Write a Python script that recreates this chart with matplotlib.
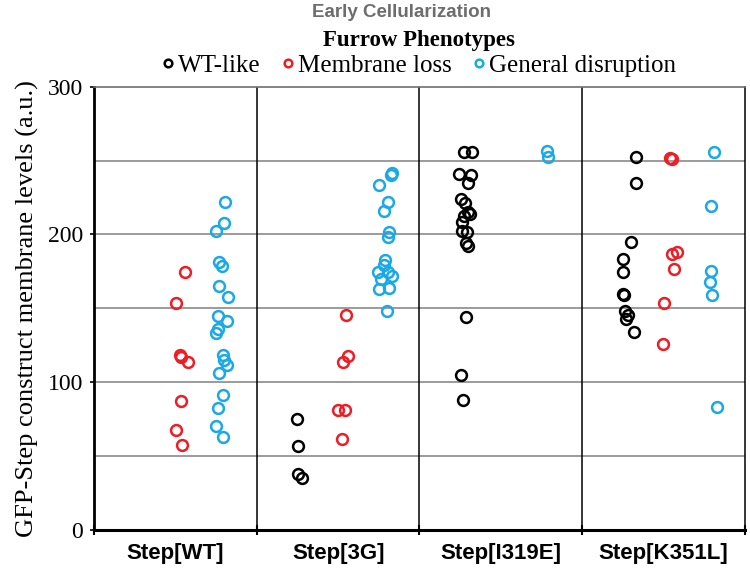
import matplotlib
matplotlib.use("Agg")
import matplotlib.pyplot as plt
from matplotlib.lines import Line2D

categories = ["Step[WT]", "Step[3G]", "Step[I319E]", "Step[K351L]"]
phenotypes = ["WT-like", "Membrane loss", "General disruption"]
colors = {"WT-like": "#000000", "Membrane loss": "#ee1c25", "General disruption": "#1aa9e6"}

# values per category and phenotype: (x offset inside the category, level)
wt_like = {
    "Step[WT]": ([], []),
    "Step[3G]": ([0.245, 0.255, 0.252, 0.276],
                 [75.1, 57.1, 37.8, 35.5]),
    "Step[I319E]": ([0.275, 0.324, 0.243, 0.316, 0.300, 0.253, 0.280, 0.296, 0.275,
                     0.310, 0.259, 0.263, 0.290, 0.284, 0.300, 0.284, 0.255, 0.269],
                    [256.0, 256.0, 240.9, 240.1, 234.7, 223.9, 221.2, 214.9, 212.6,
                     213.8, 208.2, 202.5, 201.8, 194.2, 192.4, 144.1, 105.2, 87.9]),
    "Step[K351L]": ([0.330, 0.330, 0.300, 0.252, 0.252, 0.252, 0.258, 0.263, 0.279, 0.267, 0.320],
                    [252.4, 234.7, 195.1, 183.4, 174.4, 159.8, 159.1, 148.1, 145.2, 143.0, 134.0]),
}
membrane_loss = {
    "Step[WT]": ([0.559, 0.502, 0.528, 0.535, 0.579, 0.532, 0.506, 0.543],
                 [174.8, 153.5, 118.7, 117.1, 113.7, 87.2, 67.6, 57.5]),
    "Step[3G]": ([0.547, 0.563, 0.532, 0.497, 0.542, 0.522],
                 [145.2, 117.8, 113.7, 80.9, 81.1, 61.4]),
    "Step[I319E]": ([], []),
    "Step[K351L]": ([0.539, 0.550, 0.550, 0.580, 0.566, 0.504, 0.498],
                    [251.5, 250.8, 186.8, 188.3, 176.7, 153.7, 125.6]),
}
general_disruption = {
    "Step[WT]": ([0.805, 0.801, 0.748, 0.770, 0.785, 0.768, 0.822, 0.764, 0.819, 0.760,
                  0.751, 0.791, 0.801, 0.819, 0.768, 0.794, 0.764, 0.751, 0.791],
                 [222.1, 207.7, 202.5, 181.6, 178.9, 165.0, 157.6, 144.5, 141.4, 136.2,
                  133.5, 118.2, 115.3, 111.9, 106.5, 91.7, 82.3, 70.3, 62.7]),
    "Step[3G]": ([0.829, 0.825, 0.751, 0.805, 0.784, 0.814, 0.805, 0.788, 0.784, 0.747,
                  0.808, 0.829, 0.763, 0.751, 0.813, 0.800],
                 [241.9, 240.5, 233.3, 222.3, 216.0, 201.4, 198.5, 183.0, 179.4, 174.9,
                  174.9, 172.2, 169.9, 163.2, 163.9, 148.1]),
    "Step[I319E]": ([0.782, 0.791], [256.5, 252.7]),
    "Step[K351L]": ([0.807, 0.791, 0.791, 0.784, 0.800, 0.826],
                    [256.0, 219.3, 175.1, 168.1, 159.1, 83.4]),
}
series = {"WT-like": wt_like, "Membrane loss": membrane_loss, "General disruption": general_disruption}

serif = ["Liberation Serif", "DejaVu Serif"]
sans = ["Liberation Sans", "DejaVu Sans"]

fig = plt.figure(figsize=(7.5, 5.72), dpi=100)
ax = fig.add_axes([0.1253, 0.0734, 0.868, 0.775])

for name in phenotypes:
    for i, cat in enumerate(categories):
        xs, ys = series[name][cat]
        ax.plot([i + x for x in xs], ys, linestyle="none", marker="o", ms=7.8,
                mfc="none", mec=colors[name], mew=1.8, zorder=3)

ax.set_xlim(0, 4)
ax.set_ylim(0, 300)
for y in [50, 100, 150, 200, 250]:
    ax.axhline(y, color="#8a8a8a", lw=1.2, zorder=1)
for x in [1, 2, 3]:
    ax.axvline(x, color="black", lw=1.1, zorder=2)

ax.set_xticks([0, 1, 2, 3, 4])
ax.set_xticklabels([])
ax.set_xticks([0.5, 1.5, 2.5, 3.5], minor=True)
ax.set_xticklabels(categories, minor=True, fontfamily=sans, fontweight="bold", fontsize=16)
ax.tick_params(axis="x", which="minor", length=0, pad=9)
ax.tick_params(axis="x", which="major", direction="inout", length=7, width=1.5)

ax.set_yticks([0, 100, 200, 300])
ax.set_yticklabels(["0", "100", "200", "300"], fontfamily=serif, fontsize=17)
ax.tick_params(axis="y", direction="out", length=3, width=1.2, pad=5)
ax.set_ylabel("GFP-Step construct membrane levels (a.u.)", fontfamily=serif, fontsize=19, labelpad=6)

ax.spines["left"].set_linewidth(2)
ax.spines["bottom"].set_linewidth(2.2)
ax.spines["top"].set_color("#6e6e6e")
ax.spines["top"].set_linewidth(1.2)
ax.spines["right"].set_linewidth(1.1)

fig.text(0.536, 0.978, "Early Cellularization", ha="center", va="center",
         fontfamily=sans, fontweight="bold", fontsize=13.5, color="#6d6d6d")
fig.text(0.558, 0.930, "Furrow Phenotypes", ha="center", va="center",
         fontfamily=serif, fontweight="bold", fontsize=16.5)

handles = [Line2D([], [], linestyle="none", marker="o", ms=5.5, mfc="none",
                  mec=colors[n], mew=1.8) for n in phenotypes]
fig.legend(handles, phenotypes, loc="center", bbox_to_anchor=(0.553, 0.885), ncol=3,
           frameon=False, handletextpad=-0.2, columnspacing=0.5, handlelength=1.2,
           prop={"family": serif, "size": 18})

fig.savefig("out.png", dpi=100)
